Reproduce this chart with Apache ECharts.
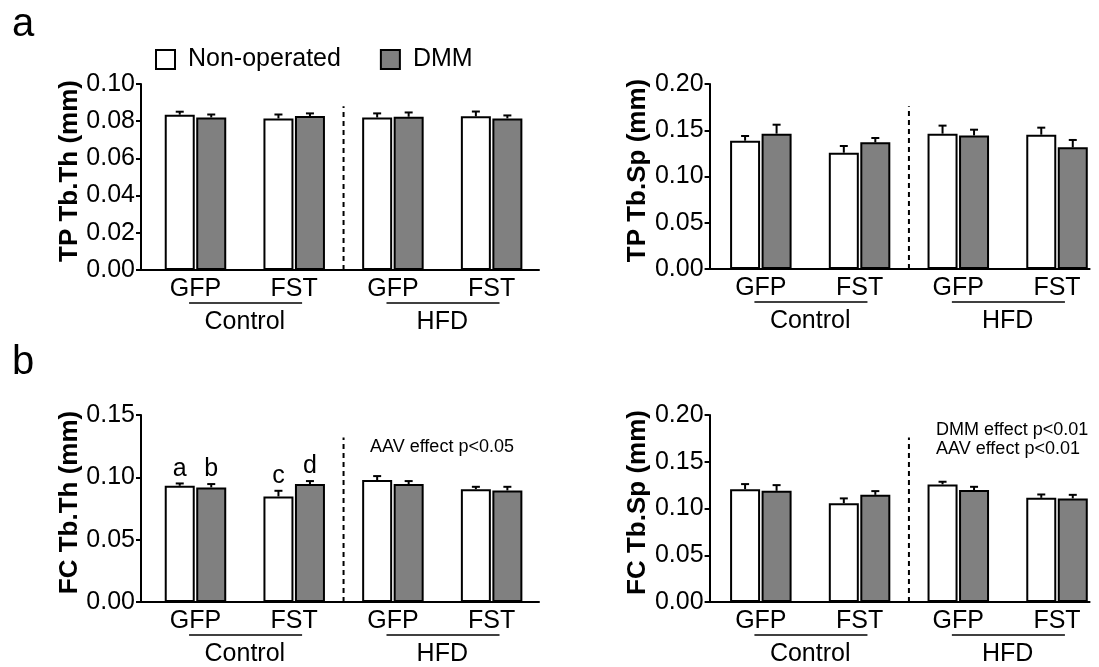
<!DOCTYPE html>
<html>
<head>
<meta charset="utf-8">
<script src="https://cdn.jsdelivr.net/npm/echarts@6/dist/echarts.min.js"></script>
<style>
html,body{margin:0;padding:0;background:#fff;}
#chart{width:1099px;height:667px;}
</style>
</head>
<body>
<div id="chart"></div>
<script>
// ---------------- DATA ----------------
const aavGroups = ['GFP', 'FST', 'GFP', 'FST'];
const diets = ['Control', 'HFD'];
const dietFirstGroup = [0, 2];
const seriesNames = ['Non-operated', 'DMM'];

// TP Tb.Th (mm)
const tpTbThNonOp    = [0.0835, 0.0815, 0.0820, 0.0826];
const tpTbThNonOpErr = [0.0016, 0.0021, 0.0022, 0.0026];
const tpTbThDMM      = [0.0820, 0.0828, 0.0824, 0.0815];
const tpTbThDMMErr   = [0.0016, 0.0014, 0.0023, 0.0016];

// TP Tb.Sp (mm)
const tpTbSpNonOp    = [0.1387, 0.1257, 0.1463, 0.1452];
const tpTbSpNonOpErr = [0.0051, 0.0073, 0.0087, 0.0076];
const tpTbSpDMM      = [0.1463, 0.1369, 0.1444, 0.1315];
const tpTbSpDMMErr   = [0.0097, 0.0047, 0.0062, 0.0080];

// FC Tb.Th (mm)
const fcTbThNonOp    = [0.0932, 0.0847, 0.0978, 0.0905];
const fcTbThNonOpErr = [0.0019, 0.0045, 0.0032, 0.0019];
const fcTbThDMM      = [0.0919, 0.0946, 0.0946, 0.0895];
const fcTbThDMMErr   = [0.0027, 0.0024, 0.0024, 0.0029];
const fcTbThNonOpLetters = ['a', 'c', '', ''];
const fcTbThDMMLetters   = ['b', 'd', '', ''];

// FC Tb.Sp (mm)
const fcTbSpNonOp    = [0.1207, 0.1057, 0.1258, 0.1114];
const fcTbSpNonOpErr = [0.0054, 0.0051, 0.0028, 0.0036];
const fcTbSpDMM      = [0.1189, 0.1146, 0.1197, 0.1108];
const fcTbSpDMMErr   = [0.0061, 0.0040, 0.0035, 0.0038];

// y-axis ticks
const tpTbThTicks = {max: 0.10, interval: 0.02};
const tpTbSpTicks = {max: 0.20, interval: 0.05};
const fcTbThTicks = {max: 0.15, interval: 0.05};
const fcTbSpTicks = {max: 0.20, interval: 0.05};

const panelTitles = ['TP Tb.Th (mm)', 'TP Tb.Sp (mm)', 'FC Tb.Th (mm)', 'FC Tb.Sp (mm)'];

// ---------------- STYLE / LAYOUT ----------------
const FONT = "'Liberation Sans', Arial, Helvetica, sans-serif";
const BAR_W = 30;
const BAR_GAP_PX = 1.5;
const OFF = (BAR_W + BAR_GAP_PX) / 2;
const CAP = 4;
const underlineSpan = [-0.065, 1.08];
const dashX = 1.5;
const dashTopFrac = 0.88;

const panels = [
  {title: panelTitles[0], grid: {left: 141, top: 84, width: 398, height: 186}, xr: [-0.552, 3.48], ticks: tpTbThTicks,
   nonop: tpTbThNonOp, nonopErr: tpTbThNonOpErr, dmm: tpTbThDMM, dmmErr: tpTbThDMMErr},
  {title: panelTitles[1], grid: {left: 709.6, top: 84, width: 380, height: 185}, xr: [-0.519, 3.33], ticks: tpTbSpTicks,
   nonop: tpTbSpNonOp, nonopErr: tpTbSpNonOpErr, dmm: tpTbSpDMM, dmmErr: tpTbSpDMMErr},
  {title: panelTitles[2], grid: {left: 141, top: 415, width: 398, height: 187}, xr: [-0.552, 3.48], ticks: fcTbThTicks,
   nonop: fcTbThNonOp, nonopErr: fcTbThNonOpErr, dmm: fcTbThDMM, dmmErr: fcTbThDMMErr,
   nonopLetters: fcTbThNonOpLetters, dmmLetters: fcTbThDMMLetters},
  {title: panelTitles[3], grid: {left: 709.6, top: 415, width: 380, height: 187}, xr: [-0.519, 3.33], ticks: fcTbSpTicks,
   nonop: fcTbSpNonOp, nonopErr: fcTbSpNonOpErr, dmm: fcTbSpDMM, dmmErr: fcTbSpDMMErr}
];

const grids = [], xAxes = [], yAxes = [], series = [];

function errRender(sign, letters) {
  return function (params, api) {
    const x = api.value(0), m = api.value(1), e = api.value(2);
    const base = api.coord([x, m]);
    const top = api.coord([x, m + e]);
    const cx = base[0] + sign * OFF;
    const children = [
      {type: 'line', shape: {x1: cx, y1: base[1], x2: cx, y2: top[1]}, style: {stroke: '#000', lineWidth: 2}},
      {type: 'line', shape: {x1: cx - CAP, y1: top[1], x2: cx + CAP, y2: top[1]}, style: {stroke: '#000', lineWidth: 2}}
    ];
    if (letters && letters[params.dataIndex]) {
      children.push({type: 'text', style: {text: letters[params.dataIndex], x: cx, y: top[1] - 2,
        align: 'center', verticalAlign: 'bottom', font: '25px ' + FONT, fill: '#000'}});
    }
    return {type: 'group', children: children};
  };
}

function decorRender(ymax) {
  return function (params, api) {
    const d = params.dataIndex;
    const first = dietFirstGroup[d];
    const p0 = api.coord([first + underlineSpan[0], 0]);
    const p1 = api.coord([first + underlineSpan[1], 0]);
    const pc = api.coord([first + 0.5, 0]);
    const children = [
      {type: 'line', shape: {x1: p0[0], y1: p0[1] + 33, x2: p1[0], y2: p1[1] + 33}, style: {stroke: '#000', lineWidth: 1.5}},
      {type: 'text', style: {text: diets[d], x: pc[0], y: pc[1] + 52, align: 'center', verticalAlign: 'middle',
        font: '25px ' + FONT, fill: '#000'}}
    ];
    if (d === 0) {
      const q0 = api.coord([dashX, 0]);
      const q1 = api.coord([dashX, ymax * dashTopFrac]);
      children.push({type: 'line', shape: {x1: q0[0], y1: q0[1], x2: q1[0], y2: q1[1]},
        style: {stroke: '#000', lineWidth: 2, lineDash: [5, 4]}});
    }
    return {type: 'group', children: children};
  };
}

panels.forEach(function (p, i) {
  grids.push(Object.assign({containLabel: false}, p.grid));
  xAxes.push({
    type: 'value', gridIndex: i, min: p.xr[0], max: p.xr[1],
    axisLine: {show: true, onZero: false, lineStyle: {color: '#000', width: 2}},
    axisTick: {show: false},
    splitLine: {show: false},
    axisLabel: {show: true, customValues: [0, 1, 2, 3], formatter: function (v) { return aavGroups[Math.round(v)] || ''; },
      color: '#000', fontSize: 25, fontFamily: FONT, margin: 7}
  });
  yAxes.push({
    type: 'value', gridIndex: i, min: 0, max: p.ticks.max, interval: p.ticks.interval,
    name: p.title, nameLocation: 'middle', nameGap: 58, nameRotate: 90,
    nameTextStyle: {fontSize: 26, fontWeight: 'bold', color: '#000', fontFamily: FONT, padding: [0, 0, 0, 12]},
    axisLine: {show: true, onZero: false, lineStyle: {color: '#000', width: 2}},
    axisTick: {show: true, length: 5, lineStyle: {color: '#000', width: 2}},
    splitLine: {show: false},
    axisLabel: {formatter: function (v) { return v.toFixed(2); }, color: '#000', fontSize: 25, fontFamily: FONT, margin: 6}
  });
  series.push({
    name: seriesNames[0], type: 'bar', xAxisIndex: i, yAxisIndex: i,
    barWidth: BAR_W, barGap: (BAR_GAP_PX / BAR_W * 100) + '%',
    itemStyle: {color: '#ffffff', borderColor: '#000', borderWidth: 2},
    data: p.nonop.map(function (v, k) { return [k, v]; })
  });
  series.push({
    name: seriesNames[1], type: 'bar', xAxisIndex: i, yAxisIndex: i,
    barWidth: BAR_W, barGap: (BAR_GAP_PX / BAR_W * 100) + '%',
    itemStyle: {color: '#808080', borderColor: '#000', borderWidth: 2},
    data: p.dmm.map(function (v, k) { return [k, v]; })
  });
  series.push({
    name: 'errNonOp' + i, type: 'custom', xAxisIndex: i, yAxisIndex: i, z: 5,
    renderItem: errRender(-1, p.nonopLetters), encode: {x: 0, y: 1},
    data: p.nonop.map(function (v, k) { return [k, v, p.nonopErr[k]]; })
  });
  series.push({
    name: 'errDMM' + i, type: 'custom', xAxisIndex: i, yAxisIndex: i, z: 5,
    renderItem: errRender(1, p.dmmLetters), encode: {x: 0, y: 1},
    data: p.dmm.map(function (v, k) { return [k, v, p.dmmErr[k]]; })
  });
  series.push({
    name: 'diet' + i, type: 'custom', xAxisIndex: i, yAxisIndex: i, clip: false,
    renderItem: decorRender(p.ticks.max), encode: {x: 0, y: 1},
    data: diets.map(function (d, k) { return [dietFirstGroup[k], 0]; })
  });
});

const chart = echarts.init(document.getElementById('chart'), null, {renderer: 'canvas'});
chart.setOption({
  animation: false,
  backgroundColor: '#fff',
  textStyle: {fontFamily: FONT},
  legend: {
    data: seriesNames, left: 150, top: 42, itemWidth: 19, itemHeight: 19, itemGap: 39, icon: 'rect',
    itemStyle: {borderColor: '#000', borderWidth: 2},
    textStyle: {fontSize: 25, color: '#000', fontFamily: FONT, padding: [0, 0, 0, 8]},
    selectedMode: false
  },
  grid: grids, xAxis: xAxes, yAxis: yAxes, series: series,
  graphic: [
    {type: 'text', left: 12, top: 5, style: {text: 'a', font: '40px ' + FONT, fill: '#000'}},
    {type: 'text', left: 12, top: 343, style: {text: 'b', font: '40px ' + FONT, fill: '#000'}},
    {type: 'text', left: 370, top: 438, style: {text: 'AAV effect p<0.05', font: '18px ' + FONT, fill: '#000'}},
    {type: 'text', left: 936, top: 421, style: {text: 'DMM effect p<0.01', font: '18px ' + FONT, fill: '#000'}},
    {type: 'text', left: 936, top: 440, style: {text: 'AAV effect p<0.01', font: '18px ' + FONT, fill: '#000'}}
  ]
});
</script>
</body>
</html>
